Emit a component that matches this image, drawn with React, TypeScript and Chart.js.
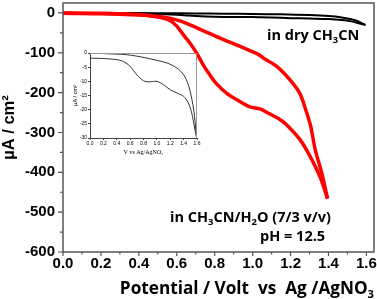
import React, { useEffect, useRef } from 'react';
import { Chart, registerables } from 'chart.js';

Chart.register(...registerables);

// ---- Data ----
// Red CV in CH3CN/H2O, cathodic-going branch (steeper, inner)
const redForwardV = [0, 0.1, 0.2, 0.3, 0.4, 0.47, 0.52, 0.564, 0.6, 0.635, 0.67, 0.705, 0.74, 0.775, 0.81, 0.864, 0.917, 0.986, 1.039, 1.092, 1.14, 1.18, 1.25, 1.303, 1.355, 1.395];
const redForwardI = [0, -0.5, -1, -2, -4, -8, -12, -19, -33, -55, -76, -101, -131, -156, -178, -202, -218, -236, -241, -254, -266, -281, -318, -360, -411, -466];
// Red CV return branch (outer)
const redReverseV = [1.395, 1.364, 1.33, 1.305, 1.28, 1.25, 1.197, 1.127, 1.056, 1.03, 0.934, 0.828, 0.723, 0.617, 0.51, 0.4, 0.3, 0.2, 0.1, 0];
const redReverseI = [-466, -401, -343, -282, -243, -203, -168, -134, -113, -104, -84, -63, -41, -20, -9, -5, -3, -2, -1.5, -1];
// Black CV in dry CH3CN (same in inset)
const dryUpperV = [0, 0.2, 0.4, 0.55, 0.7, 0.85, 1.0, 1.15, 1.3, 1.4, 1.47, 1.52, 1.555, 1.585, 1.595];
const dryUpperI = [0, -0.2, -0.4, -0.6, -1.1, -1.8, -2.6, -3.5, -5.3, -7.7, -11.2, -15.9, -20.7, -27.8, -30];
const dryLowerV = [0, 0.15, 0.3, 0.47, 0.6, 0.7, 0.8, 0.87, 1.0, 1.1, 1.2, 1.3, 1.4, 1.47, 1.52, 1.57, 1.595];
const dryLowerI = [-1.8, -1.9, -2.1, -2.7, -4.7, -7.7, -9.8, -10.2, -10, -11.2, -13, -14.1, -15.3, -17.6, -21.1, -27.1, -30];

// Axis settings
const mainXRange = [0, 1.64];
const mainYRange = [-600, 25];
const insetXRange = [0, 1.6];
const insetYRange = [-30, 0];

// Texts
const yTitle = 'µA / cm²';
const insetYTitle = 'µA / cm²';
const insetXTitle = 'V vs Ag/AgNO₃';
const xTitleSegs = [{ t: 'Potential / Volt  vs  Ag /AgNO' }, { t: '3', sub: true }];
const dryLabelSegs = [{ t: 'in dry CH' }, { t: '3', sub: true }, { t: 'CN' }];
const waterLabelSegs = [{ t: 'in CH' }, { t: '3', sub: true }, { t: 'CN/H' }, { t: '2', sub: true }, { t: 'O (7/3 v/v)' }];
const phLabelSegs = [{ t: 'pH = 12.5' }];

const pts = (xs: number[], ys: number[]) => xs.map((x, i) => ({ x, y: ys[i] }));

const TEXT_FONT = '"Open Sans", "DejaVu Sans", sans-serif';

function richWidth(ctx: CanvasRenderingContext2D, segs: any[], size: number) {
  let w = 0;
  for (const s of segs) {
    ctx.font = `bold ${s.sub ? size * 0.65 : size}px ${TEXT_FONT}`;
    w += ctx.measureText(s.t).width;
  }
  return w;
}

function drawRich(ctx: CanvasRenderingContext2D, segs: any[], x: number, y: number, size: number, align: 'left' | 'right' = 'left') {
  let cx = align === 'right' ? x - richWidth(ctx, segs, size) : x;
  ctx.textAlign = 'left';
  ctx.textBaseline = 'alphabetic';
  ctx.fillStyle = '#000';
  for (const s of segs) {
    const sz = s.sub ? size * 0.65 : size;
    ctx.font = `bold ${sz}px ${TEXT_FONT}`;
    ctx.fillText(s.t, cx, s.sub ? y + size * 0.22 : y);
    cx += ctx.measureText(s.t).width;
  }
}

const mainDecor = {
  id: 'mainDecor',
  afterDraw(chart: any) {
    const { ctx, chartArea: a, scales } = chart;
    const xs = scales.x;
    const ys = scales.y;
    ctx.save();
    // frame
    ctx.strokeStyle = '#555';
    ctx.lineWidth = 1.5;
    ctx.strokeRect(a.left, a.top, a.right - a.left, a.bottom - a.top);
    // ticks
    ctx.lineWidth = 1.2;
    ctx.beginPath();
    for (let k = 0; k <= 16; k++) {
      const px = xs.getPixelForValue(k / 10);
      const len = k % 2 === 0 ? 4 : 2.5;
      ctx.moveTo(px, a.bottom);
      ctx.lineTo(px, a.bottom + len);
    }
    for (let v = -600; v <= 0; v += 50) {
      const py = ys.getPixelForValue(v);
      const len = v % 100 === 0 ? 5 : 3;
      ctx.moveTo(a.left, py);
      ctx.lineTo(a.left - len, py);
    }
    ctx.stroke();
    // texts
    drawRich(ctx, xTitleSegs, a.right, 294, 17.2, 'right');
    drawRich(ctx, dryLabelSegs, 267, 40, 14.5);
    drawRich(ctx, waterLabelSegs, 170, 222, 14.5);
    drawRich(ctx, phLabelSegs, 260, 241, 14.5);
    ctx.restore();
  },
};

const insetDecor = {
  id: 'insetDecor',
  afterDraw(chart: any) {
    const { ctx, chartArea: a } = chart;
    ctx.save();
    ctx.strokeStyle = '#999';
    ctx.lineWidth = 1;
    ctx.beginPath();
    ctx.moveTo(a.left, a.top + 0.5);
    ctx.lineTo(a.right - 0.5, a.top + 0.5);
    ctx.lineTo(a.right - 0.5, a.bottom);
    ctx.stroke();
    ctx.restore();
  },
};

const noPad = (s: any) => {
  s.paddingTop = 0;
  s.paddingBottom = 0;
  s.paddingLeft = 0;
  s.paddingRight = 0;
};

export default function App() {
  const mainRef = useRef<HTMLCanvasElement>(null);
  const insetRef = useRef<HTMLCanvasElement>(null);

  useEffect(() => {
    const tickFont = { family: '"Liberation Sans", Arial, sans-serif', weight: 'bold' as const, size: 15 };
    const line = (data: any, color: string, width: number) => ({
      data,
      borderColor: color,
      backgroundColor: color,
      borderWidth: width,
      showLine: true,
      pointRadius: 0,
      tension: 0.3,
      fill: false,
    });

    const main = new Chart(mainRef.current as HTMLCanvasElement, {
      type: 'scatter',
      data: {
        datasets: [
          line(pts(redForwardV, redForwardI), '#ff0000', 3.5),
          line(pts(redReverseV, redReverseI), '#ff0000', 3.5),
          line(pts(dryUpperV, dryUpperI), '#000000', 2),
          line(pts(dryLowerV, dryLowerI), '#000000', 2),
        ],
      },
      options: {
        responsive: false,
        animation: false,
        devicePixelRatio: 1,
        layout: { padding: { left: 0, right: 3, top: 3, bottom: 0 } },
        plugins: { legend: { display: false }, tooltip: { enabled: false } },
        scales: {
          x: {
            type: 'linear',
            min: mainXRange[0],
            max: mainXRange[1],
            afterFit: (s: any) => { s.height = 47; noPad(s); },
            grid: { drawOnChartArea: false, color: 'rgba(0,0,0,0)', tickLength: 3 },
            border: { display: false },
            ticks: {
              stepSize: 0.1,
              includeBounds: false,
              autoSkip: false,
              maxRotation: 0,
              padding: 0,
              color: '#000',
              font: tickFont,
              callback: (v: any) => {
                const k = Math.round(Number(v) * 10);
                return k % 2 === 0 ? (k / 10).toFixed(1) : '';
              },
            },
          },
          y: {
            type: 'linear',
            min: mainYRange[0],
            max: mainYRange[1],
            afterFit: (s: any) => { s.width = 63; noPad(s); },
            grid: { drawOnChartArea: false, color: 'rgba(0,0,0,0)', tickLength: 5 },
            border: { display: false },
            title: {
              display: true,
              text: yTitle,
              color: '#000',
              font: { family: '"Liberation Sans", Arial, sans-serif', weight: 'bold', size: 16.5 },
              padding: { top: 0, bottom: 0 },
            },
            ticks: {
              stepSize: 50,
              includeBounds: false,
              autoSkip: false,
              padding: 3,
              color: '#000',
              font: tickFont,
              callback: (v: any) => (Math.round(Number(v)) % 100 === 0 ? String(Math.round(Number(v))) : ''),
            },
          },
        },
      },
      plugins: [mainDecor],
    });

    const smallFont = { family: '"Liberation Sans", Arial, sans-serif', size: 5 };
    const inset = new Chart(insetRef.current as HTMLCanvasElement, {
      type: 'scatter',
      data: {
        datasets: [
          line(pts(dryUpperV, dryUpperI), '#333333', 1),
          line(pts(dryLowerV, dryLowerI), '#333333', 1),
        ],
      },
      options: {
        responsive: false,
        animation: false,
        devicePixelRatio: 1,
        layout: { padding: { left: 0, right: 5, top: 6, bottom: 0 } },
        plugins: { legend: { display: false }, tooltip: { enabled: false } },
        scales: {
          x: {
            type: 'linear',
            min: insetXRange[0],
            max: insetXRange[1],
            afterFit: (s: any) => { s.height = 21; noPad(s); },
            grid: { drawOnChartArea: false, color: '#444', tickLength: 2 },
            border: { display: true, color: '#444', width: 1 },
            title: {
              display: true,
              text: insetXTitle,
              color: '#000',
              font: { family: '"Liberation Serif", serif', size: 6 },
              padding: { top: 0, bottom: 3 },
            },
            ticks: {
              stepSize: 0.2,
              autoSkip: false,
              maxRotation: 0,
              padding: 1,
              color: '#000',
              font: smallFont,
              callback: (v: any) => Number(v).toFixed(1),
            },
          },
          y: {
            type: 'linear',
            min: insetYRange[0],
            max: insetYRange[1],
            afterFit: (s: any) => { s.width = 28; noPad(s); },
            grid: { drawOnChartArea: false, color: '#444', tickLength: 2 },
            border: { display: true, color: '#444', width: 1 },
            title: {
              display: true,
              text: insetYTitle,
              color: '#000',
              font: { family: '"Liberation Sans", Arial, sans-serif', size: 5.5 },
              padding: { top: 10, bottom: 0 },
            },
            ticks: {
              stepSize: 5,
              autoSkip: false,
              padding: 1,
              color: '#000',
              font: smallFont,
              callback: (v: any) => String(Math.round(Number(v))),
            },
          },
        },
      },
      plugins: [insetDecor],
    });

    return () => {
      main.destroy();
      inset.destroy();
    };
  }, []);

  return (
    <div style={{ position: 'fixed', left: 0, top: 0, width: 377, height: 299, background: '#fff' }}>
      <canvas ref={mainRef} width={377} height={299} style={{ position: 'absolute', left: 0, top: 0, width: 377, height: 299 }} />
      <canvas ref={insetRef} width={140} height={112} style={{ position: 'absolute', left: 62, top: 47, width: 140, height: 112 }} />
    </div>
  );
}
